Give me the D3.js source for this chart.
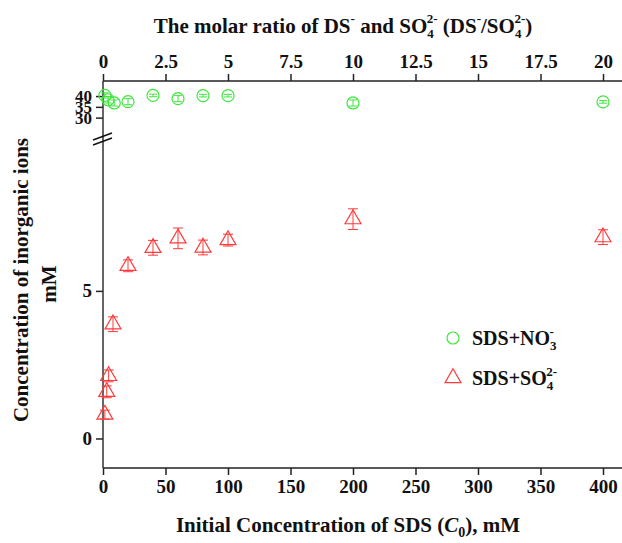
<!DOCTYPE html>
<html>
<head>
    <meta charset="utf-8" />
    <title>Inorganic ions vs SDS</title>
    <script src="https://cdn.jsdelivr.net/npm/d3@7/dist/d3.min.js"></script>
    <style>
        body { margin: 0; background: #fff; }
        text { font-family: "Liberation Serif", "Times New Roman", serif; font-weight: bold; fill: #111; }
    </style>
</head>
<body>
    <div id="chart"></div>
    <script>
        // x values (mM) and concentrations
        var no3X   = [1.5, 4, 9, 20, 40, 60, 80, 100, 200, 400];
        var no3Y   = [40.3, 38.3, 36.8, 37.4, 40.3, 38.8, 40.2, 40.2, 36.8, 37.3];
        var no3Err = [1.2, 1.5, 1.4, 1.4, 0.6, 1.4, 0.6, 0.6, 1.4, 0.6];

        var so4X   = [1.5, 3, 4.5, 8, 20, 40, 60, 80, 100, 200, 400];
        var so4Y   = [0.81, 1.58, 2.12, 3.87, 5.85, 6.46, 6.78, 6.47, 6.72, 7.43, 6.82];
        var so4Err = [0.15, 0.2, 0.2, 0.25, 0.2, 0.25, 0.35, 0.25, 0.2, 0.35, 0.25];

        var bottomTicks = [0, 50, 100, 150, 200, 250, 300, 350, 400];
        var topTicks = [0, 2.5, 5, 7.5, 10, 12.5, 15, 17.5, 20];
        var lowTicks = [0, 5];
        var highTicks = [30, 35, 40];

        function draw() {
            var W = 622, H = 543;
            var mL = 103, mR = 603, mT = 81, mB = 468;

            var svg = d3.select("#chart").append("svg")
                .attr("width", W).attr("height", H);

            var x = d3.scaleLinear().domain([0, 400]).range([mL, mR]);
            var xTop = d3.scaleLinear().domain([0, 20]).range([mL, mR]);
            // broken y axis: two pieces
            var yLow = d3.scaleLinear().domain([-1, 10]).range([mB, 143.3]);
            var yHigh = d3.scaleLinear().domain([21, 47]).range([137, mT]);

            function styleAxis(g) {
                g.select(".domain").remove();
                g.selectAll(".tick line").attr("stroke", "#222").attr("stroke-width", 1.5);
                g.selectAll(".tick text").style("font-size", "19px").attr("fill", "#111");
            }

            svg.append("g").attr("transform", "translate(0," + mB + ")")
                .call(d3.axisBottom(x).tickValues(bottomTicks).tickSize(7).tickPadding(5).tickFormat(d3.format("d")))
                .call(styleAxis);

            svg.append("g").attr("transform", "translate(0," + mT + ")")
                .call(d3.axisTop(xTop).tickValues(topTicks).tickSize(7).tickPadding(6).tickFormat(function (d) { return d; }))
                .call(styleAxis);

            svg.append("g").attr("transform", "translate(" + mL + ",0)")
                .call(d3.axisLeft(yLow).tickValues(lowTicks).tickSize(7).tickPadding(4))
                .call(styleAxis);

            // the upper piece is tightly packed, so its labels are a bit smaller
            svg.append("g").attr("transform", "translate(" + mL + ",0)")
                .call(d3.axisLeft(yHigh).tickValues(highTicks).tickSize(7).tickPadding(4))
                .call(styleAxis)
                .selectAll(".tick text").style("font-size", "17px");

            // frame lines
            svg.append("line").attr("x1", mL).attr("x2", W).attr("y1", mT).attr("y2", mT)
                .attr("stroke", "#222").attr("stroke-width", 1.5);
            svg.append("line").attr("x1", mL).attr("x2", W).attr("y1", mB).attr("y2", mB)
                .attr("stroke", "#222").attr("stroke-width", 1.5);
            svg.append("line").attr("x1", mL).attr("x2", mL).attr("y1", mT).attr("y2", mB)
                .attr("stroke", "#333").attr("stroke-width", 1.5);

            // break marks
            [0, 5].forEach(function (o) {
                svg.append("line")
                    .attr("x1", 93).attr("y1", 140 + o).attr("x2", 112).attr("y2", 133 + o)
                    .attr("stroke", "#111").attr("stroke-width", 1.5);
            });

            var green = "#3ee63e", red = "#ff3b3b";

            // error bars helper
            function errBars(xs, ys, es, ysc, color, capW) {
                var g = svg.append("g").attr("stroke", color).attr("stroke-width", 1);
                xs.forEach(function (xv, i) {
                    var cx = x(xv), y1 = ysc(ys[i] - es[i]), y2 = ysc(ys[i] + es[i]);
                    g.append("line").attr("x1", cx).attr("x2", cx).attr("y1", y1).attr("y2", y2);
                    g.append("line").attr("x1", cx - capW).attr("x2", cx + capW).attr("y1", y1).attr("y2", y1);
                    g.append("line").attr("x1", cx - capW).attr("x2", cx + capW).attr("y1", y2).attr("y2", y2);
                });
            }

            // NO3- series
            errBars(no3X, no3Y, no3Err, yHigh, green, 4);
            svg.append("g").selectAll("circle").data(no3X).enter().append("circle")
                .attr("cx", function (d) { return x(d); })
                .attr("cy", function (d, i) { return yHigh(no3Y[i]); })
                .attr("r", 6)
                .attr("fill", "none").attr("stroke", green).attr("stroke-width", 1.2);

            // SO4 2- series
            var tri = d3.symbol().type(d3.symbolTriangle).size(110);
            errBars(so4X, so4Y, so4Err, yLow, red, 5);
            svg.append("g").selectAll("path").data(so4X).enter().append("path")
                .attr("d", tri)
                .attr("transform", function (d, i) { return "translate(" + x(d) + "," + yLow(so4Y[i]) + ")"; })
                .attr("fill", "none").attr("stroke", red).attr("stroke-width", 1.2);

            // legend
            svg.append("circle").attr("cx", 453).attr("cy", 338).attr("r", 6)
                .attr("fill", "none").attr("stroke", green).attr("stroke-width", 1.2);
            svg.append("path").attr("d", tri).attr("transform", "translate(453,378)")
                .attr("fill", "none").attr("stroke", red).attr("stroke-width", 1.2);

            var l1 = svg.append("text").attr("x", 472).attr("y", 345).style("font-size", "20px");
            l1.append("tspan").text("SDS+NO");
            l1.append("tspan").attr("dy", 5).style("font-size", "13px").text("3");
            l1.append("tspan").attr("dx", -7).attr("dy", -14).style("font-size", "13px").text("-");

            var l2 = svg.append("text").attr("x", 472).attr("y", 385).style("font-size", "20px");
            l2.append("tspan").text("SDS+SO");
            l2.append("tspan").attr("dy", 5).style("font-size", "13px").text("4");
            l2.append("tspan").attr("dx", -7).attr("dy", -14).style("font-size", "13px").text("2-");

            // top title
            var t = svg.append("text").attr("x", 343).attr("y", 33).attr("text-anchor", "middle").style("font-size", "21px");
            t.append("tspan").text("The molar ratio of DS");
            t.append("tspan").attr("dy", -10).style("font-size", "13px").text("-");
            t.append("tspan").attr("dy", 10).text(" and SO");
            t.append("tspan").attr("dy", 5).style("font-size", "13px").text("4");
            t.append("tspan").attr("dx", -7).attr("dy", -15).style("font-size", "13px").text("2-");
            t.append("tspan").attr("dy", 10).text(" (DS");
            t.append("tspan").attr("dy", -10).style("font-size", "13px").text("-");
            t.append("tspan").attr("dy", 10).text("/SO");
            t.append("tspan").attr("dy", 5).style("font-size", "13px").text("4");
            t.append("tspan").attr("dx", -7).attr("dy", -15).style("font-size", "13px").text("2-");
            t.append("tspan").attr("dy", 10).text(")");

            // bottom title
            var b = svg.append("text").attr("x", 348).attr("y", 532).attr("text-anchor", "middle").style("font-size", "21px");
            b.append("tspan").text("Initial Concentration of SDS (");
            b.append("tspan").style("font-style", "italic").text("C");
            b.append("tspan").attr("dy", 5).style("font-size", "14px").text("0");
            b.append("tspan").attr("dy", -5).text("),  mM");

            // y titles
            svg.append("text").attr("transform", "translate(28,280) rotate(-90)")
                .attr("text-anchor", "middle").style("font-size", "21px")
                .text("Concentration of inorganic ions");
            svg.append("text").attr("transform", "translate(56,284) rotate(-90)")
                .attr("text-anchor", "middle").style("font-size", "21px")
                .text("mM");
        }

        draw();
    </script>
</body>
</html>
